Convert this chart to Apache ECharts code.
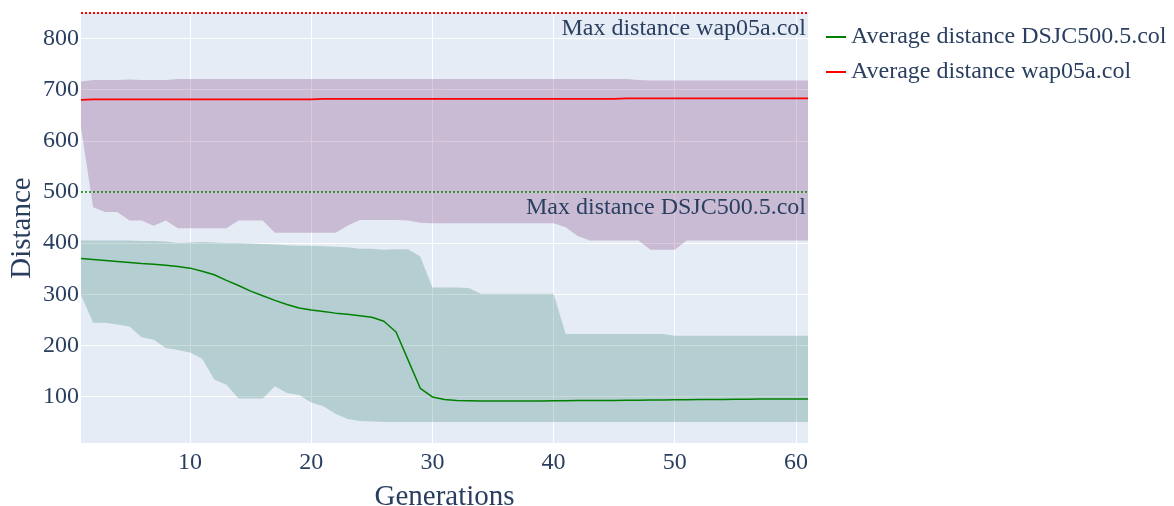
<!DOCTYPE html>
<html>
<head>
<meta charset="utf-8">
<script src="https://cdn.jsdelivr.net/npm/echarts@6/dist/echarts.min.js"></script>
<style>html,body{margin:0;padding:0;background:#fff}#c{width:1174px;height:506px}</style>
</head>
<body>
<div id="c"></div>
<script>
const generations = [1,2,3,4,5,6,7,8,9,10,11,12,13,14,15,16,17,18,19,20,21,22,23,24,25,26,27,28,29,30,31,32,33,34,35,36,37,38,39,40,41,42,43,44,45,46,47,48,49,50,51,52,53,54,55,56,57,58,59,60,61];
const dsjcMean = [370,368,366,364,362,360,358.5,356.5,354,351,345,338,327,317,306,297,288,280,273,269,266,263,261,258,255,247,226,171,116,99,94,92,91.5,91,91,91,91,91,91,91.5,91.5,92,92,92,92,92.5,92.5,93,93,93.5,93.5,94,94,94,94.5,94.5,95,95,95,95,95];
const dsjcLow = [298,244,244,241,237,216,211,195,191,186,174,133,123,96,96,96,120,107,103,88,81,66,56,52,51,50,50,50,50,50,50,50,50,50,50,50,50,50,50,50,50,50,50,50,50,50,50,50,50,50,50,50,50,50,50,50,50,50,50,50,50];
const dsjcHigh = [405,405,405,405,405,404,404,403,400,401,402,401,400,400,399,398,397,396,395,395,394,393,392,389,389,387,388,388,374,313,313,313,312,301,301,301,301,301,301,301,222,222,222,222,222,222,222,222,222,219,219,219,219,219,219,219,219,219,219,219,219];
const wapMean = [680,681,681,681,681,681,681,681,681,681,681,681,681,681,681,681,681,681,681,681,682,682,682,682,682,682,682,682,682,682,682,682,682,682,682,682,682,682,682,682,682,682,682,682,682,683,683,683,683,683,683,683,683,683,683,683,683,683,683,683,683];
const wapLow = [626,470,461,461,444,444,434,444,429,429,429,429,429,444,444,444,420,420,420,420,420,420,434,445,445,445,445,444,440,439,439,439,439,439,439,439,439,439,439,439,431,414,405,405,405,405,405,387,387,387,405,405,405,405,405,405,405,405,405,405,405];
const wapHigh = [716,719,719,719,720,719,719,719,721,721,721,721,721,721,721,721,721,721,721,721,721,721,721,721,721,721,721,721,721,721,721,721,721,721,721,721,721,721,721,721,721,721,721,721,721,721,719,718,718,718,718,718,718,718,718,718,718,718,718,718,718];
const xTicks = [10,20,30,40,50,60];
const yTicks = [100,200,300,400,500,600,700,800];
const maxDsjc = 500;
const maxWap = 850;
const names = ['Average distance DSJC500.5.col','Average distance wap05a.col'];
const annot = ['Max distance DSJC500.5.col','Max distance wap05a.col'];

const FONT = 'Liberation Serif';
const TXT = '#2a3f5f';
const pairs = arr => generations.map((g,i)=>[g,arr[i]]);
const gridLines = yTicks.map(v=>({yAxis:v})).concat(xTicks.map(v=>({xAxis:v})));

function bandSeries(lo, hi, color){
  return {
    type:'custom', silent:true, z:2, clip:true,
    data:[[0]],
    renderItem:function(params, api){
      const pts = [];
      for (let i=0;i<generations.length;i++) pts.push(api.coord([generations[i], hi[i]]));
      for (let i=generations.length-1;i>=0;i--) pts.push(api.coord([generations[i], lo[i]]));
      return {type:'polygon', shape:{points:pts}, style:{fill:color, stroke:null}};
    }
  };
}

const chart = echarts.init(document.getElementById('c'), null, {renderer:'canvas'});
chart.setOption({
  animation:false,
  backgroundColor:'#fff',
  textStyle:{fontFamily:FONT},
  grid:{left:81,right:366,top:13,bottom:63,show:true,backgroundColor:'#E5ECF6',borderWidth:0,containLabel:false,outerBoundsMode:'none'},
  legend:{
    data:names, orient:'vertical', left:821, top:17, itemGap:5,
    itemWidth:20, itemHeight:2, icon:'rect',
    textStyle:{fontFamily:FONT,fontSize:24,color:TXT,lineHeight:30}
  },
  xAxis:{
    type:'value', min:1, max:61,
    name:'Generations', nameLocation:'middle', nameGap:40, nameMoveOverlap:false,
    nameTextStyle:{fontFamily:FONT,fontSize:29,color:TXT},
    axisLine:{show:false}, axisTick:{show:false}, splitLine:{show:false},
    axisLabel:{customValues:xTicks, fontFamily:FONT, fontSize:24, color:TXT, margin:8}
  },
  yAxis:{
    type:'value', min:9, max:maxWap,
    name:'Distance', nameLocation:'middle', nameGap:44, nameMoveOverlap:false,
    nameTextStyle:{fontFamily:FONT,fontSize:29,color:TXT},
    axisLine:{show:false}, axisTick:{show:false}, splitLine:{show:false},
    axisLabel:{customValues:yTicks, fontFamily:FONT, fontSize:24, color:TXT, margin:2}
  },
  series:[
    {name:'grid', type:'line', data:[], z:1, silent:true,
     markLine:{z:1, silent:true, symbol:'none', label:{show:false}, lineStyle:{color:'#ffffff',width:1,type:'solid'}, data:gridLines}},
    bandSeries(dsjcLow, dsjcHigh, 'rgba(45,118,110,0.26)'),
    bandSeries(wapLow, wapHigh, 'rgba(120,40,112,0.25)'),
    {name:names[0], type:'line', data:pairs(dsjcMean), showSymbol:false, symbol:'none',
     lineStyle:{color:'#008000',width:1.5}, itemStyle:{color:'#008000'}, z:3,
     markLine:{silent:true, symbol:'none',
       lineStyle:{color:'#008000',width:1.5,type:[2,2]},
       label:{show:true, position:'insideEndBottom', formatter:annot[0], fontFamily:FONT, fontSize:24, color:TXT, distance:[2,4]},
       data:[{yAxis:maxDsjc}]}},
    {name:names[1], type:'line', data:pairs(wapMean), showSymbol:false, symbol:'none',
     lineStyle:{color:'#ff0000',width:1.8}, itemStyle:{color:'#ff0000'}, z:3,
     markLine:{silent:true, symbol:'none',
       lineStyle:{color:'#ff0000',width:2,type:[2,2]},
       label:{show:true, position:'insideEndBottom', formatter:annot[1], fontFamily:FONT, fontSize:24, color:TXT, distance:[2,4]},
       data:[{yAxis:maxWap}]}}
  ]
});
</script>
</body>
</html>
